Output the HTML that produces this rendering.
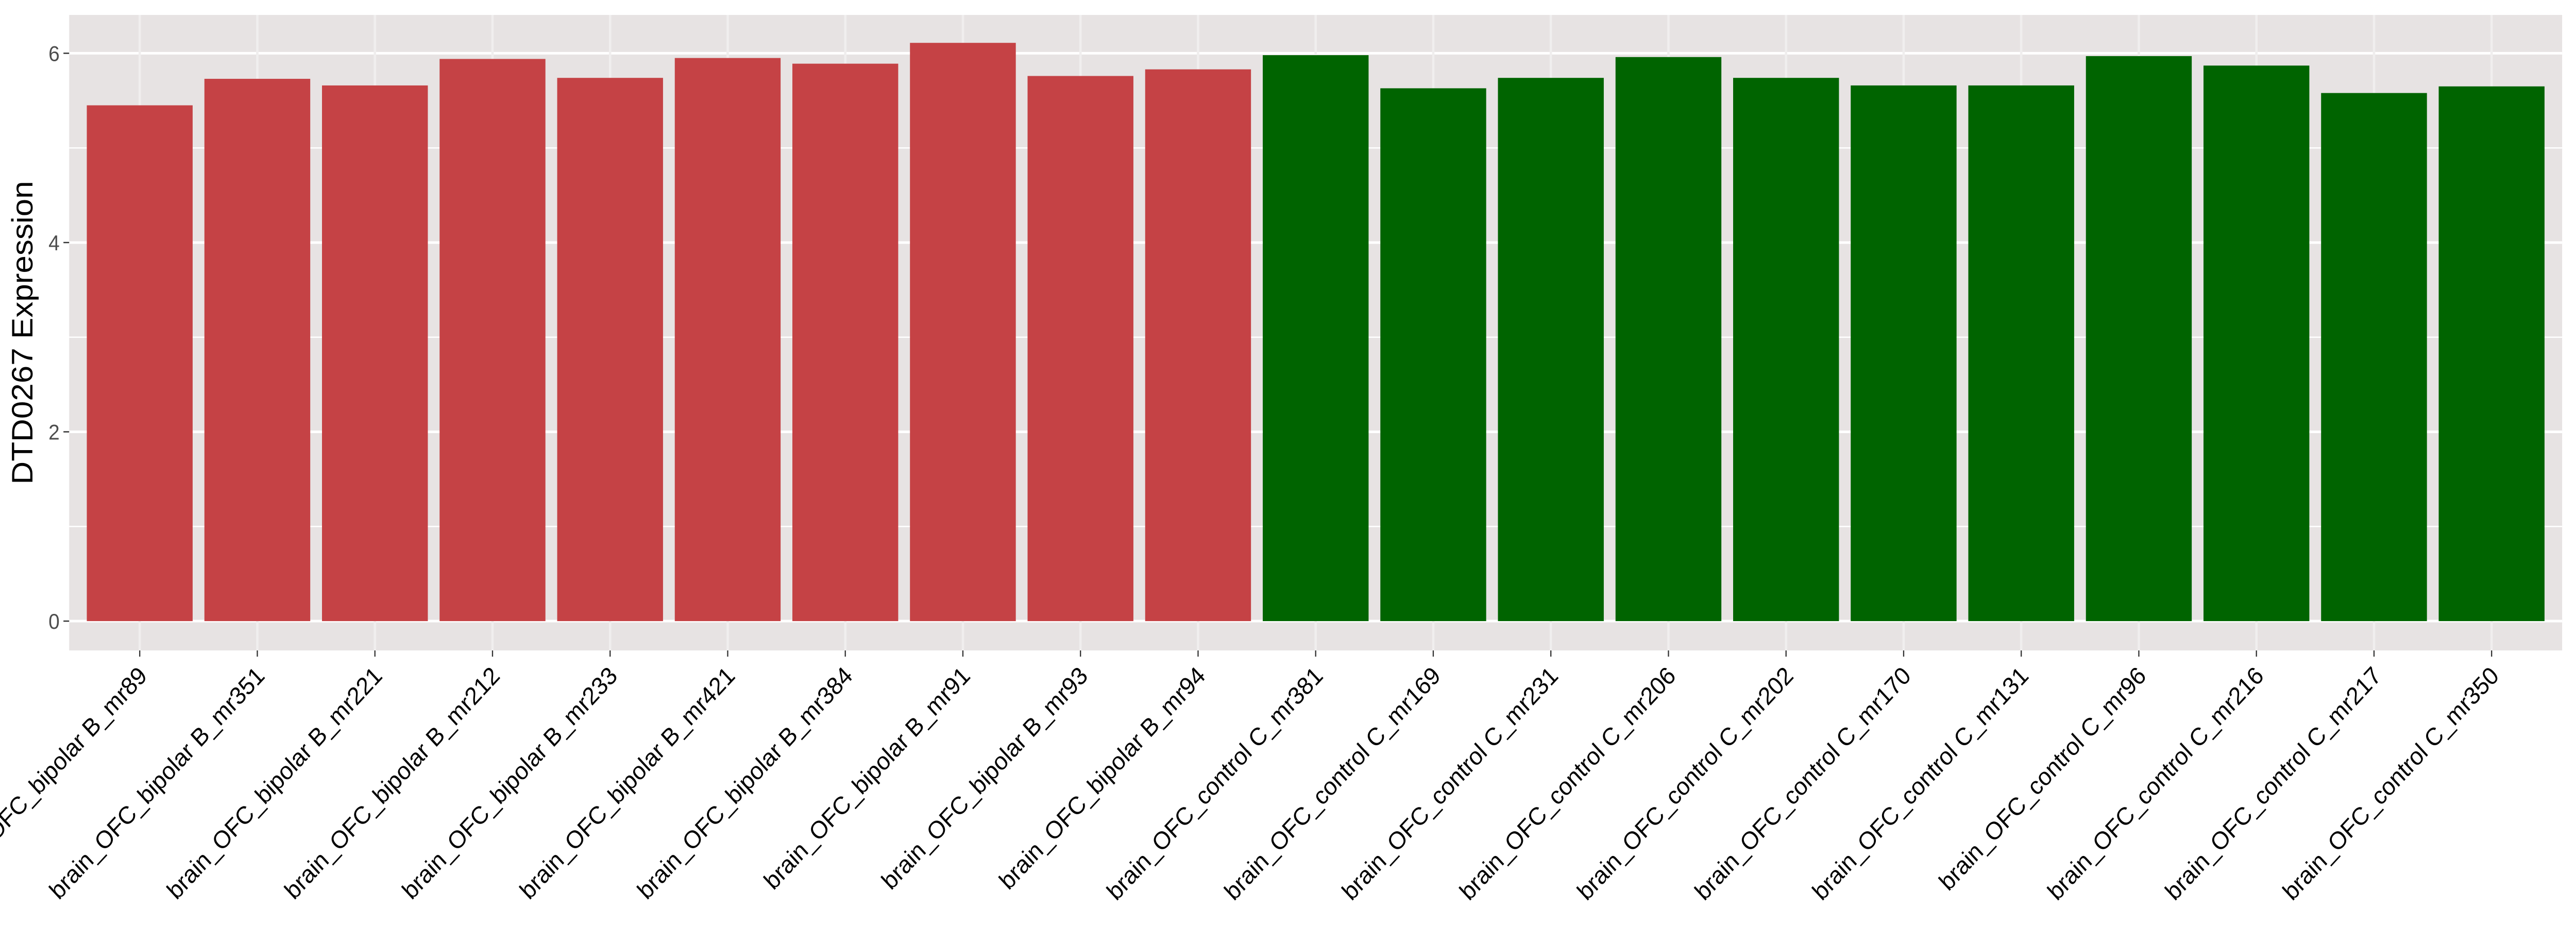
<!DOCTYPE html>
<html><head><meta charset="utf-8"><style>
html,body{margin:0;padding:0;background:#fff;width:100%;height:100%;overflow:hidden;}
svg{display:block;width:100vw;height:100vh;font-family:"Liberation Sans","DejaVu Sans",sans-serif;}
</style></head><body>
<svg id="chart" viewBox="0 0 5400 1800" preserveAspectRatio="none" xmlns="http://www.w3.org/2000/svg">
<rect x="145" y="29" width="5226" height="1234" fill="#E7E3E3"/>
<g id="grid"></g>
<g id="bars"></g>
<g id="axes"></g>
<text transform="translate(68,646) rotate(-90)" text-anchor="middle" font-size="62" fill="#000">DTD0267 Expression</text>
</svg>
<script>
const categories = ["brain_OFC_bipolar B_mr89","brain_OFC_bipolar B_mr351","brain_OFC_bipolar B_mr221","brain_OFC_bipolar B_mr212","brain_OFC_bipolar B_mr233","brain_OFC_bipolar B_mr421","brain_OFC_bipolar B_mr384","brain_OFC_bipolar B_mr91","brain_OFC_bipolar B_mr93","brain_OFC_bipolar B_mr94","brain_OFC_control C_mr381","brain_OFC_control C_mr169","brain_OFC_control C_mr231","brain_OFC_control C_mr206","brain_OFC_control C_mr202","brain_OFC_control C_mr170","brain_OFC_control C_mr131","brain_OFC_control C_mr96","brain_OFC_control C_mr216","brain_OFC_control C_mr217","brain_OFC_control C_mr350"];
const values = [5.45,5.73,5.66,5.94,5.74,5.95,5.89,6.11,5.76,5.83,5.98,5.63,5.74,5.96,5.74,5.66,5.66,5.97,5.87,5.58,5.65];
const groups = ["bipolar","bipolar","bipolar","bipolar","bipolar","bipolar","bipolar","bipolar","bipolar","bipolar","control","control","control","control","control","control","control","control","control","control","control"];
const yTicks = [0,2,4,6];
const yMinor = [1,3,5];

const NS="http://www.w3.org/2000/svg";
const PL=145, PR=5371, PT=29, PB=1263;
const yMin=-0.31, yMax=6.405;
const step=(PR-PL)/(categories.length+0.2);
function xC(i){return PL+step*(0.6+i);}
function yS(v){return PB-(v-yMin)/(yMax-yMin)*(PB-PT);}
function mk(tag,attrs,parent){const e=document.createElementNS(NS,tag);for(const k in attrs)e.setAttribute(k,attrs[k]);parent.appendChild(e);return e;}
const grid=document.getElementById('grid'),bars=document.getElementById('bars'),axes=document.getElementById('axes');
yMinor.forEach(v=>{const l=mk('line',{x1:PL,x2:PR,y1:yS(v),y2:yS(v),stroke:'#fff','stroke-width':2.5},grid);

});
yTicks.forEach(v=>{const l=mk('line',{x1:PL,x2:PR,y1:yS(v),y2:yS(v),stroke:'#fff','stroke-width':5},grid);


const t=mk('line',{x1:PL-12,x2:PL,y1:yS(v),y2:yS(v),stroke:'#333','stroke-width':2.5},axes);


const tx=mk('text',{x:PL-20,y:yS(v)+15,'text-anchor':'end','font-size':42,fill:'#4D4D4D'},axes);
tx.textContent=v;

});
categories.forEach((c,i)=>{const x=xC(i);
const g=mk('line',{x1:x,x2:x,y1:PT,y2:PB,stroke:'#F0EEEE','stroke-width':5},grid);


const w=step*0.9;
const b=mk('rect',{x:x-w/2,y:yS(values[i]),width:w,height:yS(0)-yS(values[i]),fill:groups[i]==='bipolar'?'#C54245':'#006400'},bars);


const t=mk('line',{x1:x,x2:x,y1:PB,y2:PB+12,stroke:'#333','stroke-width':2.5},axes);


const tx=mk('text',{transform:`translate(${x+18},${PB+52}) rotate(-45)`,'text-anchor':'end','font-size':48,fill:'#000'},axes);
tx.textContent=c;

});
</script>
</body></html>
